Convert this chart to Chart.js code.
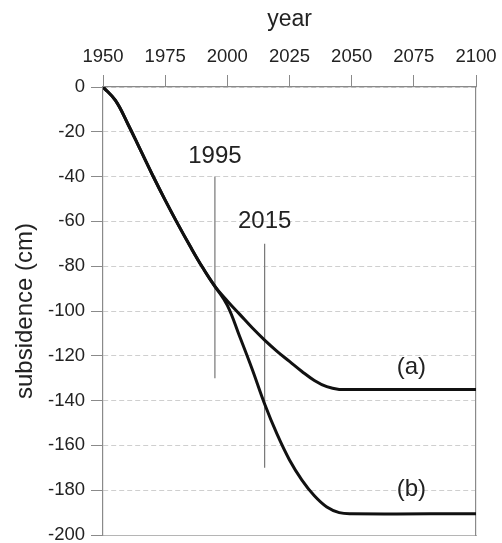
<!DOCTYPE html>
<html>
<head>
<meta charset="utf-8">
<script src="https://cdn.jsdelivr.net/npm/chart.js@4.4.1/dist/chart.umd.min.js"></script>
<style>
  html, body { margin: 0; padding: 0; background: #fff; overflow: hidden; }
  #wrap { width: 502px; height: 543px; }
</style>
</head>
<body>
<div id="wrap"><canvas id="myChart"></canvas></div>
<script>
// years
var years = [1950, 1955, 1960, 1965, 1970, 1975, 1980, 1985, 1990, 1995,
             2000, 2005, 2010, 2015, 2020, 2025, 2030, 2035, 2040, 2045, 2050, 2100];
// subsidence (cm), scenario (a)
var serieA = [0, -6, -16.5, -28, -39.5, -50.5, -61, -71, -80.5, -89,
              -95.5, -101.5, -107.5, -113, -118, -122.5, -127, -131, -133.8, -135, -135, -135];
// subsidence (cm), scenario (b)
var serieB = [0, -6, -16.5, -28, -39.5, -50.5, -61, -71, -80.5, -89,
              -97.5, -111.5, -126, -141.5, -155, -166.5, -175.5, -182.5, -187.5, -190, -190.5, -190.5];
// vertical marker lines: year, upper and lower end
var marcaAnios = [1995, 2015];
var marcaArriba = [-40, -70];
var marcaAbajo = [-130, -170];
// text labels in data units
var textos = ['1995', '2015', '(a)', '(b)'];
var textoX = [1995, 2015, 2074, 2074];
var textoY = [-31, -60, -125, -179.5];

var xTicks = [1950, 1975, 2000, 2025, 2050, 2075, 2100];

function puntos(serie) {
  return years.map(function (y, i) { return { x: y, y: serie[i] }; });
}

function sinRelleno(s) {
  s.paddingTop = 0; s.paddingBottom = 0; s.paddingLeft = 0; s.paddingRight = 0;
}

var gris = '#8a8a8a';
var fuente = '"Liberation Sans", Arial, sans-serif';

var datasets = [
  { data: puntos(serieA), borderColor: '#111', borderWidth: 3, pointRadius: 0, tension: 0.4 },
  { data: puntos(serieB), borderColor: '#111', borderWidth: 3, pointRadius: 0, tension: 0.4 }
];
marcaAnios.forEach(function (a, i) {
  datasets.push({
    data: [{ x: a, y: marcaArriba[i] }, { x: a, y: marcaAbajo[i] }],
    borderColor: '#777', borderWidth: 1.2, pointRadius: 0
  });
});

var etiquetas = {
  id: 'etiquetas',
  afterDatasetsDraw: function (chart) {
    var ctx = chart.ctx;
    var sx = chart.scales.x, sy = chart.scales.y;
    ctx.save();
    ctx.font = '24px ' + fuente;
    ctx.fillStyle = '#222';
    ctx.textAlign = 'center';
    ctx.textBaseline = 'middle';
    textos.forEach(function (t, i) {
      ctx.fillText(t, sx.getPixelForValue(textoX[i]), sy.getPixelForValue(textoY[i]));
    });
    ctx.restore();
  }
};

var ctx = document.getElementById('myChart').getContext('2d');
var myChart = new Chart(ctx, {
  type: 'line',
  data: { datasets: datasets },
  plugins: [etiquetas],
  options: {
    responsive: true,
    maintainAspectRatio: false,
    animation: false,
    layout: { padding: { top: 0, right: 0, bottom: 8, left: 0 } },
    plugins: { legend: { display: false }, tooltip: { enabled: false } },
    scales: {
      x: {
        type: 'linear',
        position: 'top',
        min: 1950,
        max: 2100,
        afterBuildTicks: function (s) { s.ticks = xTicks.map(function (v) { return { value: v }; }); },
        afterFit: function (s) { s.height = 87; sinRelleno(s); },
        ticks: { color: '#222', font: { family: fuente, size: 18.5 }, padding: 7, maxRotation: 0,
                 callback: function (v) { return String(v); } },
        grid: { drawOnChartArea: false, drawTicks: true, tickLength: 12, tickColor: gris },
        border: { color: gris, width: 1.2 },
        title: { display: true, text: 'year', color: '#222', font: { family: fuente, size: 23 }, padding: { top: 6, bottom: 0 } }
      },
      x2: {
        type: 'linear',
        position: 'bottom',
        min: 1950,
        max: 2100,
        afterFit: function (s) { s.height = 0; sinRelleno(s); },
        ticks: { display: false },
        grid: { drawOnChartArea: false, drawTicks: false },
        border: { color: '#b5b5b5', width: 1 }
      },
      y: {
        position: 'left',
        min: -200,
        max: 0,
        afterFit: function (s) { s.width = 103; sinRelleno(s); },
        ticks: { stepSize: 20, color: '#222', font: { family: fuente, size: 18.5 }, padding: 6 },
        grid: { color: '#cfcfcf', lineWidth: 1, tickLength: 12, tickColor: gris, tickBorderDash: [] },
        border: { color: gris, width: 1.2, dash: [5, 3] },
        title: { display: true, text: 'subsidence (cm)', color: '#222', font: { family: fuente, size: 24 }, padding: { top: 11, bottom: 0 } }
      },
      y2: {
        position: 'right',
        min: -200,
        max: 0,
        afterFit: function (s) { s.width = 26; sinRelleno(s); },
        ticks: { display: false },
        grid: { drawOnChartArea: false, drawTicks: false },
        border: { color: gris, width: 1.2 }
      }
    }
  }
});
</script>
</body>
</html>
